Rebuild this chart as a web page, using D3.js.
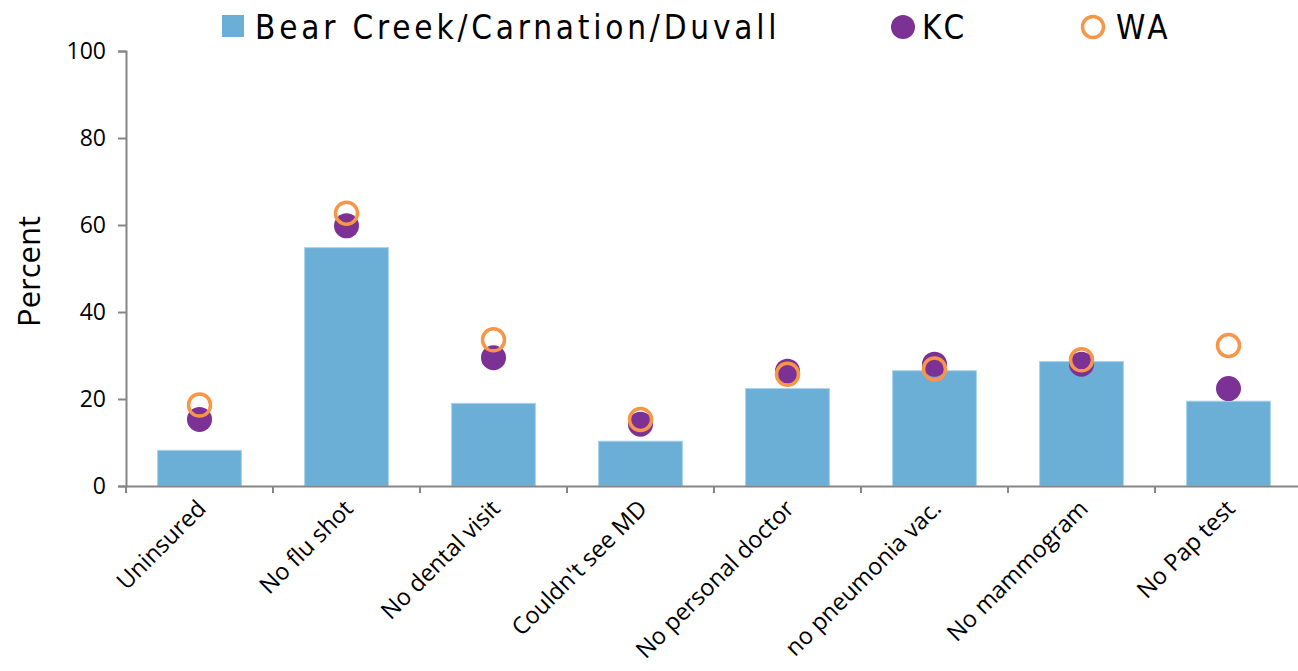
<!DOCTYPE html>
<html>
<head>
<meta charset="utf-8">
<script src="https://cdn.jsdelivr.net/npm/d3@7"></script>
<style>
  body { margin: 0; background: #fff; }
  svg { display: block; }
</style>
</head>
<body>
<div id="chart"></div>
<script>
// values
var categories = ["Uninsured", "No flu shot", "No dental visit", "Couldn't see MD",
  "No personal doctor", "no pneumonia vac.", "No mammogram", "No Pap test"];
var areaValues = [8.2, 54.8, 19.0, 10.3, 22.4, 26.5, 28.6, 19.5];
var kcValues = [15.3, 59.8, 29.5, 14.2, 26.4, 28.0, 28.0, 22.4];
var waValues = [18.6, 62.7, 33.6, 15.3, 25.7, 26.9, 29.0, 32.3];
var yTicks = [0, 20, 40, 60, 80, 100];
var seriesNames = ["Bear Creek/Carnation/Duvall", "KC", "WA"];

var width = 1298, height = 671;
var margin = {top: 51, right: -4, bottom: 185, left: 126};

var barColour = "#6baed6";
var kcColour = "#7b3294";
var waColour = "#f79646";
var axisColour = "#868686";

var svg = d3.select("#chart")
  .append("svg")
  .attr("width", width)
  .attr("height", height);

var x = d3.scaleBand()
  .domain(categories)
  .range([margin.left, width - margin.right])
  .paddingInner(0.43)
  .paddingOuter(0.215);

var xOuter = d3.scaleBand()
  .domain(categories)
  .range([margin.left, width - margin.right]);

var y = d3.scaleLinear()
  .domain([0, 100])
  .range([height - margin.bottom, margin.top]);

// bars
svg.selectAll("rect.bar")
  .data(categories)
  .enter()
  .append("rect")
  .attr("class", "bar")
  .attr("x", function(d) { return x(d); })
  .attr("width", x.bandwidth())
  .attr("y", function(d, i) { return y(areaValues[i]); })
  .attr("height", function(d, i) { return y(0) - y(areaValues[i]); })
  .style("fill", barColour)
  .style("stroke", "#a9d2ec")
  .style("stroke-width", 1);

// KC dots
svg.selectAll("circle.kc")
  .data(categories)
  .enter()
  .append("circle")
  .attr("class", "kc")
  .attr("cx", function(d) { return xOuter(d) + xOuter.bandwidth() / 2; })
  .attr("cy", function(d, i) { return y(kcValues[i]); })
  .attr("r", 12.5)
  .style("fill", kcColour);

// WA rings
svg.selectAll("circle.wa")
  .data(categories)
  .enter()
  .append("circle")
  .attr("class", "wa")
  .attr("cx", function(d) { return xOuter(d) + xOuter.bandwidth() / 2; })
  .attr("cy", function(d, i) { return y(waValues[i]); })
  .attr("r", 11)
  .style("fill", "none")
  .style("stroke", waColour)
  .style("stroke-width", 3.5);

// y axis
var yAxis = svg.append("g")
  .attr("transform", "translate(" + margin.left + ",0)")
  .call(d3.axisLeft(y).tickValues(yTicks).tickSize(8).tickPadding(12));
yAxis.selectAll("text")
  .style("font-family", "Open Sans")
  .style("font-size", "23px")
  .style("fill", "#000");

// x axis
var xAxis = svg.append("g")
  .attr("transform", "translate(0," + y(0) + ")")
  .call(d3.axisBottom(xOuter).tickSize(0).tickFormat(""));
xAxis.selectAll(".tick").remove();
xAxis.selectAll("line.sep")
  .data(categories)
  .enter()
  .append("line")
  .attr("class", "sep")
  .attr("x1", function(d) { return xOuter(d); })
  .attr("x2", function(d) { return xOuter(d); })
  .attr("y1", 0)
  .attr("y2", 7);

svg.selectAll(".domain, .tick line, line.sep")
  .style("stroke", axisColour)
  .style("stroke-width", 2);

// rotated category labels
svg.selectAll("text.cat")
  .data(categories)
  .enter()
  .append("text")
  .attr("class", "cat")
  .attr("transform", function(d) {
    return "translate(" + (xOuter(d) + xOuter.bandwidth() / 2 + 8) + "," + (y(0) + 24) + ") rotate(-45)";
  })
  .attr("text-anchor", "end")
  .style("font-family", "Open Sans")
  .style("font-size", "23.5px")
  .style("fill", "#000")
  .text(function(d) { return d; });

// y title
svg.append("text")
  .attr("transform", "translate(40," + ((y(0) + y(100)) / 2 + 3) + ") rotate(-90)")
  .attr("text-anchor", "middle")
  .style("font-family", "Open Sans")
  .style("font-size", "31px")
  .style("fill", "#000")
  .text("Percent");

// legend
var legend = svg.append("g").attr("class", "legend");
var legendFont = function(sel) {
  sel.style("font-family", "'DejaVu Sans Condensed', 'DejaVu Sans'")
    .style("font-stretch", "condensed")
    .style("font-size", "33px")
    .style("letter-spacing", "3.8px")
    .style("fill", "#000");
};
legend.append("rect")
  .attr("x", 222).attr("y", 15).attr("width", 22).attr("height", 22)
  .style("fill", barColour);
legend.append("text")
  .attr("x", 255).attr("y", 39)
  .call(legendFont)
  .text(seriesNames[0]);
legend.append("circle")
  .attr("cx", 903).attr("cy", 27).attr("r", 12)
  .style("fill", kcColour);
legend.append("text")
  .attr("x", 922).attr("y", 39)
  .call(legendFont)
  .text(seriesNames[1]);
legend.append("circle")
  .attr("cx", 1093).attr("cy", 27).attr("r", 10.5)
  .style("fill", "none")
  .style("stroke", waColour)
  .style("stroke-width", 3.5);
legend.append("text")
  .attr("x", 1116).attr("y", 39)
  .call(legendFont)
  .text(seriesNames[2]);
</script>
</body>
</html>
